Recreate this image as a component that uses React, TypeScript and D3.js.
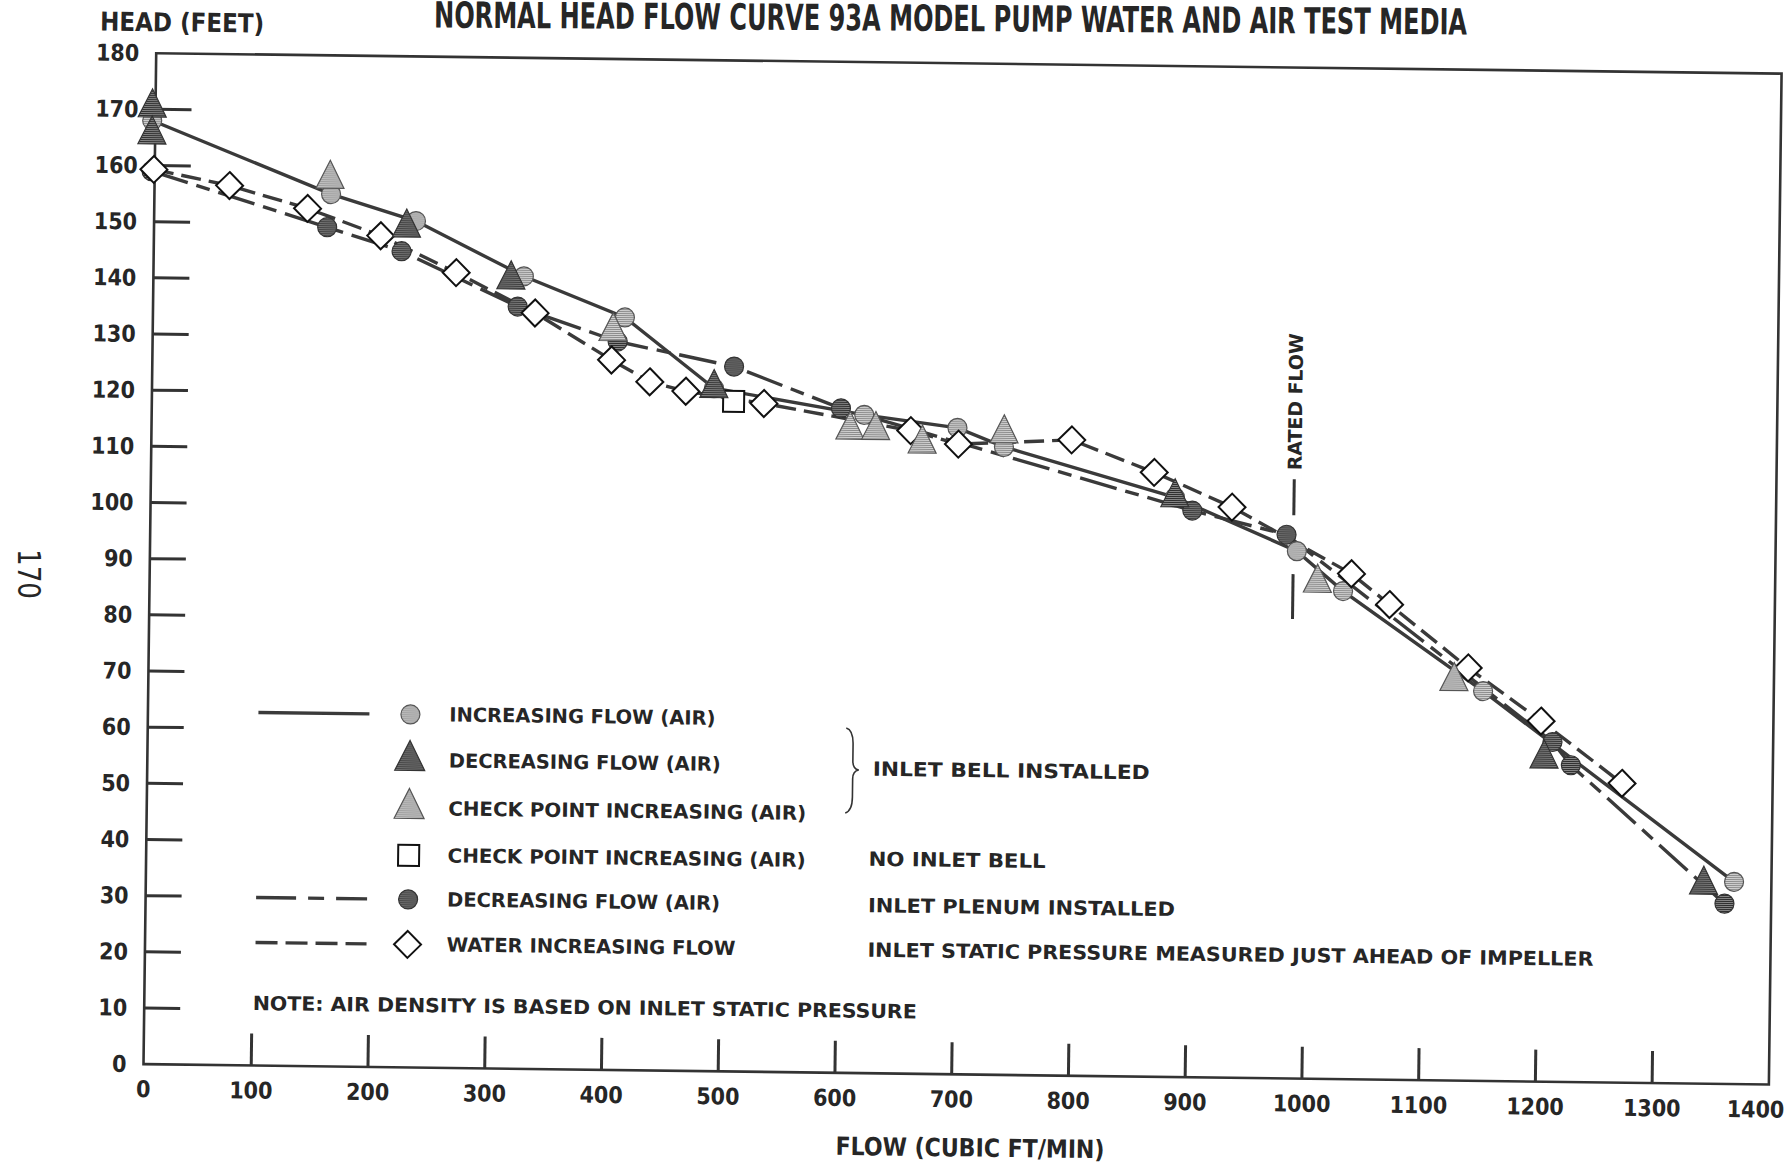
import React from "react";
import * as d3 from "d3";

type Pt = [number, number];

// ---------- data ----------
const xTickValues = [0, 100, 200, 300, 400, 500, 600, 700, 800, 900, 1000, 1100, 1200, 1300, 1400];
const yTickValues = [0, 10, 20, 30, 40, 50, 60, 70, 80, 90, 100, 110, 120, 130, 140, 150, 160, 170, 180];

// inlet bell installed
const increasingFlowAir: Pt[] = [
  [5, 168], [159, 155.3], [232, 150.7], [325, 141.1], [412, 134], [489, 121.6],
  [618, 117.2], [698, 115.1], [738, 111.8], [885, 103.2], [990, 93.9], [1030, 86.9],
  [1151, 69.4], [1368, 36],
];
const decreasingFlowAir: Pt[] = [
  [5, 170.3], [5, 165.5], [224, 149.5], [314, 140.5], [489, 121.6], [885, 103.2],
  [1204, 57.5], [1342, 35.4],
];
const checkPointBell: Pt[] = [
  [158, 158], [402, 131.5], [606, 114.5], [628, 114.5], [668, 112.2], [738, 114.2],
  [1008, 88.3], [1126, 71.1],
];
// no inlet bell
const checkPointNoBell: Pt[] = [[506, 119.3]];
// inlet plenum installed
const decreasingFlowPlenum: Pt[] = [
  [5, 159], [156, 149.4], [220, 145.3], [320, 135.7], [406, 129.7], [506, 125.5],
  [598, 118.3], [900, 100.9], [981, 96.8], [1211, 60.5], [1227, 56.4], [1360, 32.1],
];
// water
const waterIncreasingFlow: Pt[] = [
  [7, 159.3], [72, 156.6], [139, 152.7], [202, 148], [267, 141.6], [335, 134.6],
  [401, 126.4], [434, 122.6], [465, 121], [532, 119], [658, 114.5], [699, 112.2],
  [796, 113.2], [867, 107.6], [934, 101.6], [1037, 90], [1070, 84.6], [1138, 73.5],
  [1201, 64.2], [1271, 53.3],
];

const ratedFlow = 987;
const ratedFlowUpperSeg: Pt = [100.3, 106.7];
const ratedFlowLowerSeg: Pt = [81.8, 89.8];
const ratedFlowLabelY = 120.5;

const titleText = "NORMAL HEAD FLOW CURVE 93A MODEL PUMP WATER AND AIR TEST MEDIA";
const yAxisTitle = "HEAD (FEET)";
const xAxisTitle = "FLOW (CUBIC FT/MIN)";
const noteText = "NOTE:  AIR DENSITY IS BASED ON INLET STATIC PRESSURE";
const pageNumber = "170";

const legendLabels = [
  "INCREASING FLOW (AIR)",
  "DECREASING FLOW (AIR)",
  "CHECK POINT INCREASING (AIR)",
  "CHECK POINT INCREASING (AIR)",
  "DECREASING FLOW (AIR)",
  "WATER INCREASING FLOW",
];
const legendMarkers = ["lightCircle", "darkTriangle", "lightTriangle", "square", "darkCircle", "diamond"];
const legendLines = ["solid", "", "", "", "long", "short"];
const legendWidths = [266, 272, 358, 358, 273, 289];
const groupLabels = ["INLET BELL INSTALLED", "NO INLET BELL", "INLET PLENUM INSTALLED", "INLET STATIC PRESSURE MEASURED JUST AHEAD OF IMPELLER"];
const groupWidths = [277, 177, 307, 726];

// ---------- layout ----------
const W = 1790;
const H = 1165;
const ROT = 0.72;
const FRAME_LEFT_PAD = 9; // hand-drawn frame sits a little right of the zero tick
const condensed = "'DejaVu Sans Condensed', 'Liberation Sans Narrow', 'Roboto Condensed', 'DejaVu Sans', sans-serif";
const wide = "'DejaVu Sans', Verdana, sans-serif";
const ink = "#262626";
const lineInk = "#3a3a3a";

const CIRCLE_R = 9.5;
const TRI_W = 28;
const TRI_H = 28;
const DIA = 13.5;
const SQ = 21;

function triPath(cx: number, cy: number, w = TRI_W, h = TRI_H) {
  const top = cy - (h * 2) / 3;
  const base = cy + h / 3;
  return `M${cx},${top}L${cx + w / 2},${base}L${cx - w / 2},${base}Z`;
}
function diaPath(cx: number, cy: number) {
  return `M${cx},${cy - DIA}L${cx + DIA},${cy}L${cx},${cy + DIA}L${cx - DIA},${cy}Z`;
}

function Marker({ kind, cx, cy, big }: { kind: string; cx: number; cy: number; big?: boolean }) {
  const tw = big ? 30 : TRI_W;
  const th = big ? 30 : TRI_H;
  switch (kind) {
    case "lightCircle":
      return <circle cx={cx} cy={cy} r={CIRCLE_R} fill="url(#lightPat)" stroke="#555" strokeWidth={1.2} />;
    case "darkCircle":
      return <circle cx={cx} cy={cy} r={CIRCLE_R} fill="url(#darkPat)" stroke="#333" strokeWidth={1.2} />;
    case "lightTriangle":
      return <path d={triPath(cx, cy, tw, th)} fill="url(#lightPat)" stroke="#555" strokeWidth={1.2} />;
    case "darkTriangle":
      return <path d={triPath(cx, cy, tw, th)} fill="url(#darkPat)" stroke="#333" strokeWidth={1.2} />;
    case "square":
      return <rect x={cx - SQ / 2} y={cy - SQ / 2} width={SQ} height={SQ} fill="#fff" stroke="#111" strokeWidth={2} />;
    case "diamond":
      return <path d={diaPath(cx, cy)} fill="#fff" stroke="#111" strokeWidth={2} />;
    default:
      return null;
  }
}

const dashFor: Record<string, string | undefined> = {
  solid: undefined,
  long: "38 9 14 9",
  short: "20 8",
};

export default function App() {
  const x = d3.scaleLinear().domain([0, 1400]).range([134.5, 1769]);
  const y = d3.scaleLinear().domain([0, 180]).range([1064, 53]);
  const line = d3
    .line<Pt>()
    .x((d) => x(d[0]))
    .y((d) => y(d[1]))
    .curve(d3.curveLinear);

  const frameLeft = x(0) + FRAME_LEFT_PAD;
  const frameRight = x(1400);

  const series = [
    { data: increasingFlowAir, dash: "solid" },
    { data: decreasingFlowPlenum, dash: "long" },
    { data: waterIncreasingFlow, dash: "short" },
  ];

  const legendRowY = [711, 757, 805, 852, 896, 941];
  const groupY = [760, 850, 896.5, 941];

  const xLabelPos = (v: number) => (v === 0 ? frameLeft : v === 1400 ? x(v) - 13 : x(v));

  return (
    <svg
      width={W}
      height={H}
      viewBox={`0 0 ${W} ${H}`}
      style={{ position: "absolute", left: 0, top: 0, display: "block", background: "#fff" }}
    >
      <defs>
        <pattern id="lightPat" patternUnits="userSpaceOnUse" width={4} height={2}>
          <rect width={4} height={2} fill="#d2d2d2" />
          <rect y={1} width={4} height={1} fill="#8c8c8c" />
        </pattern>
        <pattern id="darkPat" patternUnits="userSpaceOnUse" width={4} height={2}>
          <rect width={4} height={2} fill="#878787" />
          <rect y={1} width={4} height={1} fill="#2e2e2e" />
        </pattern>
      </defs>
      <rect width={W} height={H} fill="#fff" />

      {/* page number */}
      <text
        x={0}
        y={0}
        transform="translate(29,574) rotate(90)"
        textAnchor="middle"
        dominantBaseline="central"
        fontFamily={wide}
        fontSize={32}
        textLength={50}
        lengthAdjust="spacingAndGlyphs"
        fill={ink}
      >
        {pageNumber}
      </text>

      {/* title (scanned slightly askew) */}
      <text
        x={0}
        y={0}
        transform="translate(434,27.5) rotate(0.39)"
        fontFamily={condensed}
        fontWeight="bold"
        fontSize={36}
        textLength={1033}
        lengthAdjust="spacingAndGlyphs"
        fill={ink}
      >
        {titleText}
      </text>

      <g transform={`rotate(${ROT}, ${x(0)}, ${y(0)})`}>
        <text
          x={87}
          y={31}
          fontFamily={condensed}
          fontWeight="bold"
          fontSize={26}
          textLength={164}
          lengthAdjust="spacingAndGlyphs"
          fill={ink}
        >
          {yAxisTitle}
        </text>

        {/* frame */}
        <rect
          x={frameLeft}
          y={y(180)}
          width={frameRight - frameLeft}
          height={y(0) - y(180)}
          fill="none"
          stroke="#333"
          strokeWidth={2.6}
        />

        {/* y ticks */}
        {yTickValues.map((v) => (
          <g key={`yt${v}`}>
            {v > 0 && v < 180 && (
              <line x1={frameLeft} x2={frameLeft + 36} y1={y(v)} y2={y(v)} stroke="#333" strokeWidth={3} />
            )}
            <text
              x={frameLeft - 17}
              y={y(v)}
              textAnchor="end"
              dominantBaseline="central"
              fontFamily={condensed}
              fontWeight="bold"
              fontSize={23}
              fill={ink}
            >
              {v}
            </text>
          </g>
        ))}

        {/* x ticks */}
        {xTickValues.map((v) => (
          <g key={`xt${v}`}>
            {v > 0 && v < 1400 && (
              <line x1={x(v)} x2={x(v)} y1={y(0)} y2={y(0) - 32} stroke="#333" strokeWidth={3} />
            )}
            <text
              x={xLabelPos(v)}
              y={y(0) + 25}
              textAnchor="middle"
              dominantBaseline="central"
              fontFamily={condensed}
              fontWeight="bold"
              fontSize={23}
              fill={ink}
            >
              {v}
            </text>
          </g>
        ))}
        <text
          x={971}
          y={1146}
          textAnchor="middle"
          fontFamily={condensed}
          fontWeight="bold"
          fontSize={25}
          textLength={269}
          lengthAdjust="spacingAndGlyphs"
          fill={ink}
        >
          {xAxisTitle}
        </text>

        {/* rated flow */}
        <line x1={x(ratedFlow)} x2={x(ratedFlow)} y1={y(ratedFlowUpperSeg[0])} y2={y(ratedFlowUpperSeg[1])} stroke="#333" strokeWidth={3} />
        <line x1={x(ratedFlow)} x2={x(ratedFlow)} y1={y(ratedFlowLowerSeg[0])} y2={y(ratedFlowLowerSeg[1])} stroke="#333" strokeWidth={3} />
        <text
          x={0}
          y={0}
          transform={`translate(${x(ratedFlow)},${y(ratedFlowLabelY)}) rotate(-90)`}
          textAnchor="middle"
          dominantBaseline="central"
          fontFamily={wide}
          fontWeight="bold"
          fontSize={19}
          textLength={137}
          fill={ink}
        >
          RATED FLOW
        </text>

        {/* curves */}
        {series.map((s, i) => (
          <path
            key={`s${i}`}
            d={line(s.data) || ""}
            fill="none"
            stroke={lineInk}
            strokeWidth={3.4}
            strokeDasharray={dashFor[s.dash]}
          />
        ))}

        {/* markers */}
        {checkPointNoBell.map((d, i) => (
          <Marker key={`sq${i}`} kind="square" cx={x(d[0])} cy={y(d[1])} />
        ))}
        {decreasingFlowPlenum.map((d, i) => (
          <Marker key={`dc${i}`} kind="darkCircle" cx={x(d[0])} cy={y(d[1])} />
        ))}
        {increasingFlowAir.map((d, i) => (
          <Marker key={`lc${i}`} kind="lightCircle" cx={x(d[0])} cy={y(d[1])} />
        ))}
        {waterIncreasingFlow.map((d, i) => (
          <Marker key={`di${i}`} kind="diamond" cx={x(d[0])} cy={y(d[1])} />
        ))}
        {checkPointBell.map((d, i) => (
          <Marker key={`lt${i}`} kind="lightTriangle" cx={x(d[0])} cy={y(d[1])} />
        ))}
        {decreasingFlowAir.map((d, i) => (
          <Marker key={`dt${i}`} kind="darkTriangle" cx={x(d[0])} cy={y(d[1])} />
        ))}

        {/* legend */}
        {legendLabels.map((lab, i) => (
          <g key={`lg${i}`}>
            {legendLines[i] && (
              <line
                x1={254}
                x2={365}
                y1={legendRowY[i]}
                y2={legendRowY[i]}
                stroke={lineInk}
                strokeWidth={3.4}
                strokeDasharray={legendLines[i] === "long" ? "40 12 16 12" : legendLines[i] === "short" ? "22 8" : undefined}
              />
            )}
            <Marker kind={legendMarkers[i]} cx={406} cy={legendRowY[i]} big />
            <text
              x={445}
              y={legendRowY[i]}
              dominantBaseline="central"
              fontFamily={wide}
              fontWeight="bold"
              fontSize={19.5}
              textLength={legendWidths[i]}
              lengthAdjust="spacingAndGlyphs"
              fill={ink}
            >
              {lab}
            </text>
          </g>
        ))}
        <path
          d="M842,719 Q849,721 849,735 L849,752 Q849,760 855,761 Q849,762 849,770 L849,788 Q849,802 842,804"
          fill="none"
          stroke="#333"
          strokeWidth={1.6}
        />
        {groupLabels.map((lab, i) => (
          <text
            key={`gl${i}`}
            x={i === 0 ? 869 : 866}
            y={groupY[i]}
            dominantBaseline="central"
            fontFamily={wide}
            fontWeight="bold"
            fontSize={19.5}
            textLength={groupWidths[i]}
            lengthAdjust="spacingAndGlyphs"
            fill={ink}
          >
            {lab}
          </text>
        ))}
        <text
          x={252}
          y={1002}
          dominantBaseline="central"
          fontFamily={wide}
          fontWeight="bold"
          fontSize={19.5}
          textLength={664}
          lengthAdjust="spacingAndGlyphs"
          fill={ink}
        >
          {noteText}
        </text>
      </g>
    </svg>
  );
}
